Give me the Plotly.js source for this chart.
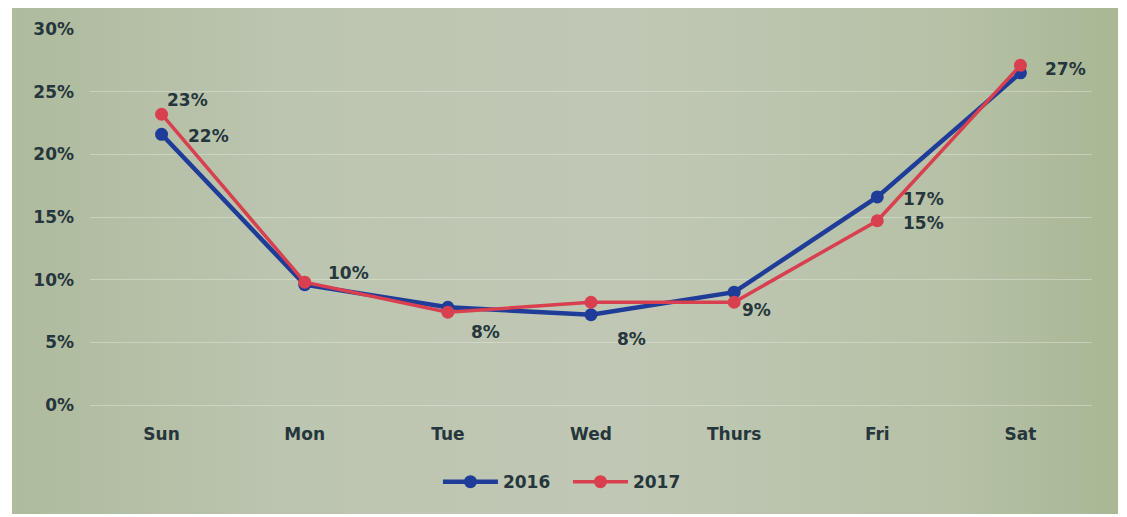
<!DOCTYPE html>
<html>
<head>
<meta charset="utf-8">
<script src="https://cdn.plot.ly/plotly-3.0.1.min.js"></script>
<style>
  html, body { margin: 0; padding: 0; background: #ffffff; }
  #frame { position: absolute; left: 12px; top: 8px; width: 1106px; height: 506px;
           background: linear-gradient(90deg, #aebb9d 0%, #bcc5b0 25%, #c0c8b5 55%, #b6c1a6 85%, #a8b794 100%); }
  #chart { width: 1106px; height: 506px; }
</style>
</head>
<body>
<div id="frame"><div id="chart"></div></div>
<script>
// ---- data ----
const days = ["Sun", "Mon", "Tue", "Wed", "Thurs", "Fri", "Sat"];
const values2016 = [0.216, 0.096, 0.078, 0.072, 0.090, 0.166, 0.265];
const values2017 = [0.232, 0.098, 0.074, 0.082, 0.082, 0.147, 0.271];
const labels2016 = ["22%", "", "", "8%", "", "17%", ""];
const labels2017 = ["23%", "10%", "8%", "", "9%", "15%", "27%"];
const yTickVals = [0, 0.05, 0.10, 0.15, 0.20, 0.25, 0.30];
const yTickText = ["0%", "5%", "10%", "15%", "20%", "25%", "30%"];

// ---- styles ----
const textColor = "#26363c";
const fontFam = "DejaVu Sans, Verdana, sans-serif";
const blue = "#1f3d98";
const red = "#d8404f";

// label offsets (pixels) per series
const shift2016 = [[47, -2], [0, 0], [0, 0], [40, -24], [0, 0], [46, -2], [0, 0]];
const shift2017 = [[26, 14], [44, 9], [38, -20], [0, 0], [22, -8], [46, -2], [45, -4]];

const annotations = [];
function addLabels(vals, labels, shifts) {
  for (let i = 0; i < days.length; i++) {
    if (!labels[i]) continue;
    annotations.push({
      x: days[i], y: vals[i], xref: "x", yref: "y",
      text: labels[i], showarrow: false,
      xshift: shifts[i][0], yshift: shifts[i][1],
      font: { family: fontFam, size: 17, color: textColor, weight: "bold" }
    });
  }
}
addLabels(values2016, labels2016, shift2016);
addLabels(values2017, labels2017, shift2017);

const traces = [
  {
    x: days, y: values2016, name: "2016", type: "scatter", mode: "lines+markers",
    line: { color: blue, width: 4.5 },
    marker: { color: blue, size: 13 }
  },
  {
    x: days, y: values2017, name: "2017", type: "scatter", mode: "lines+markers",
    line: { color: red, width: 3.5 },
    marker: { color: red, size: 13 }
  }
];

const layout = {
  width: 1106, height: 506,
  paper_bgcolor: "rgba(0,0,0,0)",
  plot_bgcolor: "rgba(0,0,0,0)",
  margin: { l: 78, r: 26, t: 21, b: 109 },
  font: { family: fontFam, size: 17, color: textColor, weight: "bold" },
  showlegend: true,
  legend: {
    orientation: "h", x: 0.477, xanchor: "center", y: -0.205, yanchor: "middle",
    font: { family: fontFam, size: 17, color: textColor, weight: "bold" },
    itemwidth: 55, entrywidth: 60, bgcolor: "rgba(0,0,0,0)"
  },
  xaxis: {
    type: "category", range: [-0.5, 6.5],
    showgrid: false, zeroline: false, showline: false, ticks: "",
    ticklabelstandoff: 17,
    tickfont: { family: fontFam, size: 17, color: textColor, weight: "bold" }
  },
  yaxis: {
    range: [0, 0.30], tickvals: yTickVals, ticktext: yTickText,
    showgrid: true, gridcolor: "rgba(228,234,222,0.45)", gridwidth: 1,
    zeroline: true, zerolinecolor: "rgba(228,234,222,0.45)", zerolinewidth: 1,
    showline: false, ticks: "",
    ticklabelstandoff: 15,
    tickfont: { family: fontFam, size: 17, color: textColor, weight: "bold" }
  },
  annotations: annotations
};

Plotly.newPlot("chart", traces, layout, { displayModeBar: false, staticPlot: true });
</script>
</body>
</html>
